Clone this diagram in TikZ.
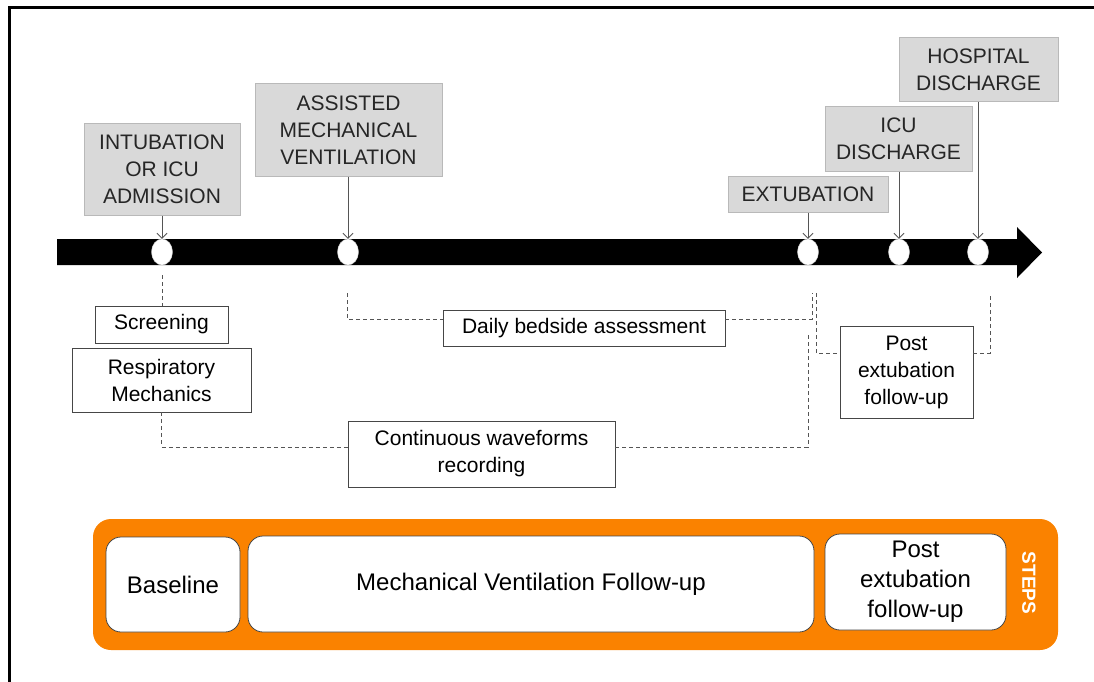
\documentclass[tikz,border=0pt]{standalone}
\usepackage{fontspec}
\setmainfont{Liberation Sans}
\usetikzlibrary{shapes.geometric, arrows.meta, positioning}
\definecolor{evfill}{RGB}{217,217,217}
\definecolor{evline}{RGB}{185,185,185}
\definecolor{taskline}{RGB}{70,70,70}
\definecolor{linkgray}{RGB}{85,85,85}
\definecolor{stepsorange}{RGB}{250,130,0}

\begin{document}
\begin{tikzpicture}[
    x=1pt, y=-1pt,
    evbox/.style={draw=evline, fill=evfill, line width=1pt, inner sep=0pt, align=center, text=black!85, font=\fontsize{21}{27}\selectfont},
    evdot/.style={ellipse, draw=gray!40, fill=white, inner sep=0pt, minimum width=21pt, minimum height=26pt},
    task/.style={draw=taskline, fill=white, line width=0.8pt, inner sep=0pt, align=center, font=\fontsize{21}{27}\selectfont},
    phase/.style={draw=taskline, fill=white, line width=0.8pt, rounded corners=15pt, inner sep=0pt, align=center, font=\fontsize{24}{30}\selectfont},
    pointer/.style={-{Straight Barb[length=5pt, width=10pt]}, draw=linkgray, line width=0.9pt},
    link/.style={draw=linkgray, line width=1pt, dash pattern=on 4pt off 3pt}
]
    \useasboundingbox (0,0) rectangle (1094,682);
    % Frame
    \draw[line width=3pt] (9,682) -- (9,8) -- (1094,8);

    % Time line
    \fill (57,239) -- (1017,239) -- (1017,227) -- (1042,252.5) -- (1017,278) -- (1017,265) -- (57,265) -- cycle;
    \node[evdot] (c1) at (162,252) {};
    \node[evdot] (c2) at (348,252) {};
    \node[evdot] (c3) at (808,252) {};
    \node[evdot] (c4) at (899,252) {};
    \node[evdot] (c5) at (978,252) {};

    % Events
    \node[evbox, minimum width=156pt, minimum height=91pt] (intub) at (162,169.5) {INTUBATION\\OR ICU\\ADMISSION};
    \node[evbox, minimum width=187pt, minimum height=92pt] (assist) at (348.5,130) {ASSISTED\\MECHANICAL\\VENTILATION};
    \node[evbox, minimum width=160pt, minimum height=36pt] (extub) at (808,194) {EXTUBATION};
    \node[evbox, minimum width=147pt, minimum height=64pt] (icu) at (898.5,139) {ICU\\DISCHARGE};
    \node[evbox, minimum width=159pt, minimum height=64pt] (hosp) at (978.5,70) {HOSPITAL\\DISCHARGE};

    \draw[pointer] (intub.south -| c1) -- (c1.north);
    \draw[pointer] (assist.south -| c2) -- (c2.north);
    \draw[pointer] (extub.south -| c3) -- (c3.north);
    \draw[pointer] (icu.south -| c4) -- (c4.north);
    \draw[pointer] (hosp.south -| c5) -- (c5.north);

    % Assessments
    \node[task, minimum width=133pt, minimum height=37pt] (screen) at (161.5,324.5) {Screening};
    \node[task, minimum width=179pt, minimum height=64pt] (resp) at (161.5,380) {Respiratory\\Mechanics};
    \node[task, minimum width=282pt, minimum height=36pt] (daily) at (584,328) {Daily bedside assessment};
    \node[task, minimum width=267pt, minimum height=66pt] (wave) at (481.5,454) {Continuous waveforms\\recording};
    \node[task, minimum width=133pt, minimum height=92pt] (post) at (906.5,372) {Post\\extubation\\follow-up};

    \coordinate (s1) at (162,275);
    \coordinate (a1) at (347,293);
    \coordinate (e1) at (808,335);
    \coordinate (e2) at (812,293);
    \coordinate (e3) at (816,293);
    \coordinate (h1) at (990,293);

    \draw[link] (s1) -- (screen.north -| s1);
    \draw[link] (resp.south) |- ([yshift=7pt]wave.west);
    \draw[link] ([yshift=7pt]wave.east) -| (e1);
    \draw[link] (a1) |- ([yshift=9pt]daily.west);
    \draw[link] ([yshift=9pt]daily.east) -| (e2);
    \draw[link] (e3) |- ([yshift=19pt]post.west);
    \draw[link] ([yshift=19pt]post.east) -| (h1);

    % Steps
    \node[fill=stepsorange, rounded corners=18pt, minimum width=965pt, minimum height=131pt, inner sep=0pt] (steps) at (575.5,584.5) {};
    \node[phase, minimum width=134pt, minimum height=95pt] (base) at (173,584.5) {Baseline};
    \node[phase, minimum width=566pt, minimum height=96pt] (mvfu) at (531,584) {Mechanical Ventilation Follow-up};
    \node[phase, minimum width=181pt, minimum height=96pt] (pefu) at (915.5,582) {Post\\extubation\\follow-up};
    \node[rotate=-90, text=white, font=\fontsize{19}{22}\selectfont\bfseries, inner sep=0pt] (stepslabel) at (1029,583) {STEPS};
\end{tikzpicture}
\end{document}
